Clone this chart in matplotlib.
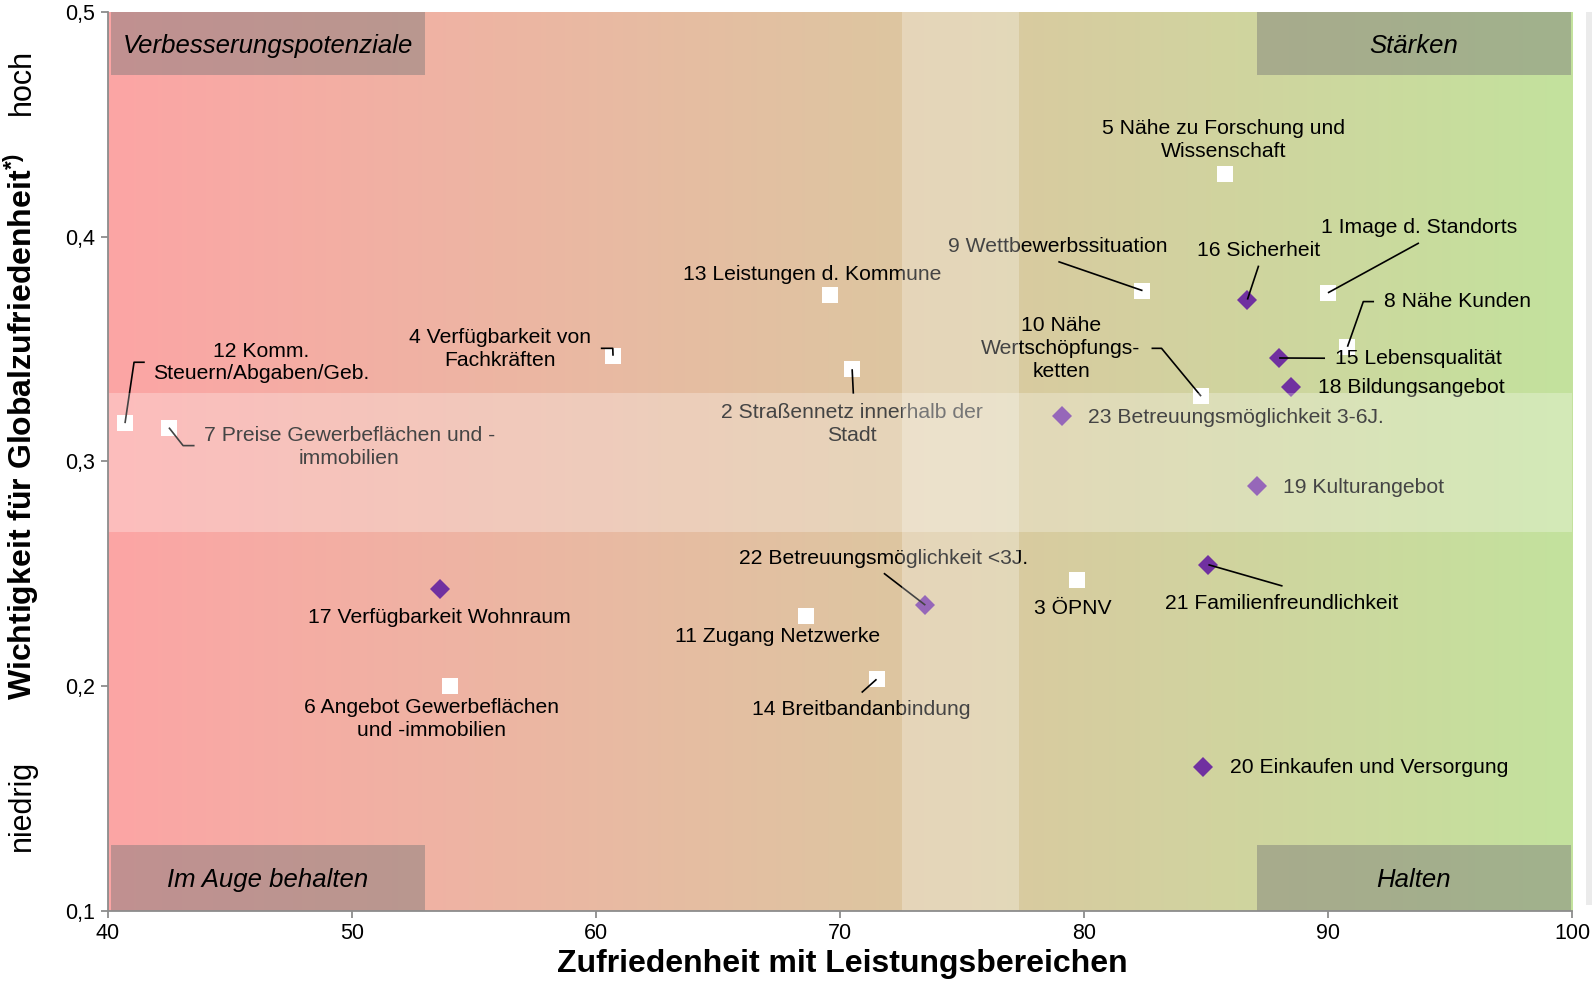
import matplotlib.pyplot as plt
import numpy as np
from matplotlib.patches import Rectangle
from matplotlib.ticker import FuncFormatter, MultipleLocator

plt.rcParams['font.family'] = ['Liberation Sans', 'DejaVu Sans']
plt.rcParams['mathtext.fontset'] = 'custom'
plt.rcParams['mathtext.rm'] = 'Liberation Sans'
plt.rcParams['mathtext.bf'] = 'Liberation Sans:bold'

# ------------------------
# Daten: Leistungsbereiche
# ------------------------
nummer = list(range(1, 24))
bereich = [
    "Image d. Standorts",
    "Straßennetz innerhalb der\nStadt",
    "ÖPNV",
    "Verfügbarkeit von\nFachkräften",
    "Nähe zu Forschung und\nWissenschaft",
    "Angebot Gewerbeflächen\nund -immobilien",
    "Preise Gewerbeflächen und -\nimmobilien",
    "Nähe Kunden",
    "Wettbewerbssituation",
    "Nähe\nWertschöpfungs-\nketten",
    "Zugang Netzwerke",
    "Komm.\nSteuern/Abgaben/Geb.",
    "Leistungen d. Kommune",
    "Breitbandanbindung",
    "Lebensqualität",
    "Sicherheit",
    "Verfügbarkeit Wohnraum",
    "Bildungsangebot",
    "Kulturangebot",
    "Einkaufen und Versorgung",
    "Familienfreundlichkeit",
    "Betreuungsmöglichkeit <3J.",
    "Betreuungsmöglichkeit 3-6J.",
]
zufriedenheit = [90.0, 70.5, 79.7, 60.7, 85.8, 54.0, 42.5, 90.8, 82.4, 84.8, 68.6, 40.7,
                 69.6, 71.5, 88.0, 86.7, 53.6, 88.5, 87.1, 84.9, 85.1, 73.5, 79.1]
wichtigkeit = [0.375, 0.341, 0.247, 0.347, 0.428, 0.200, 0.315, 0.351, 0.376, 0.329, 0.231, 0.317,
               0.374, 0.203, 0.346, 0.372, 0.243, 0.333, 0.289, 0.164, 0.254, 0.236, 0.320]
# 1-14 Standortfaktoren (Quadrat), 15-23 weiche Faktoren (Raute)
gruppe = ["s"] * 14 + ["D"] * 9

# ------------------------
# Layout der Beschriftungen (Textmitte) und Führungslinien
# ------------------------
text_pos = {
    1: (93.75, 0.404), 2: (70.48, 0.3165), 3: (79.56, 0.2347), 4: (56.05, 0.350),
    5: (85.72, 0.443), 6: (53.26, 0.1853), 7: (49.9, 0.3065), 8: (95.29, 0.3711),
    9: (78.94, 0.3955), 10: (79.06, 0.3503), 11: (67.45, 0.2222), 12: (46.27, 0.344),
    13: (68.87, 0.3833), 14: (70.86, 0.1895), 15: (93.7, 0.3459), 16: (87.14, 0.394),
    17: (53.59, 0.2306), 18: (93.41, 0.3327), 19: (91.47, 0.2884), 20: (91.67, 0.1638),
    21: (88.09, 0.2369), 22: (71.78, 0.2567), 23: (86.21, 0.3196),
}
leader = {
    1: [(93.73, 0.3972)], 16: [(87.16, 0.3871)], 9: [(78.95, 0.3889)],
    10: [(82.77, 0.3503), (83.18, 0.3503)], 8: [(91.89, 0.3711), (91.45, 0.3711)],
    15: [(89.88, 0.3459)], 12: [(41.51, 0.3441), (41.07, 0.3441)],
    7: [(43.55, 0.307), (43.08, 0.307)], 4: [(60.2, 0.3503), (60.69, 0.3503)],
    2: [(70.55, 0.330)], 22: [(71.8, 0.2502)], 21: [(88.14, 0.2445)], 14: [(70.89, 0.1971)],
}

fig = plt.figure(figsize=(15.92, 9.82), dpi=100)
ax = fig.add_axes([0.0678, 0.0726, 0.9196, 0.9152])
ax.set_xlim(40, 100)
ax.set_ylim(0.1, 0.5)

# Hintergrund-Verlauf rot -> grün
links = np.array([252, 165, 165]) / 255
rechts = np.array([195, 226, 157]) / 255
t = np.linspace(0, 1, 300)[None, :, None]
verlauf = links * (1 - t) + rechts * t
ax.imshow(verlauf, extent=[40, 100, 0.1, 0.5], aspect='auto', zorder=0, interpolation='bilinear')

# Punkte
for m, farbe, gr in [("s", "white", 11.5), ("D", "#7030A0", 10)]:
    xs = [x for x, g in zip(zufriedenheit, gruppe) if g == m]
    ys = [y for y, g in zip(wichtigkeit, gruppe) if g == m]
    ax.plot(xs, ys, linestyle='none', marker=m, markersize=gr, color=farbe,
            markeredgewidth=0, zorder=3)

# Beschriftungen
for n, name, x, y in zip(nummer, bereich, zufriedenheit, wichtigkeit):
    tx, ty = text_pos[n]
    ax.text(tx, ty, f"{n} {name}", ha='center', va='center', fontsize=15.2,
            linespacing=1.25, color='black', zorder=4)
    if n in leader:
        pts = leader[n] + [(x, y)]
        ax.plot([p[0] for p in pts], [p[1] for p in pts], color='black', lw=1.2,
                zorder=3.5, solid_capstyle='butt')

# helle Bänder
ax.axhspan(0.2686, 0.3305, color='white', alpha=0.27, lw=0, zorder=5)
ax.axvspan(72.53, 77.35, color='white', alpha=0.27, lw=0, zorder=5)

# Quadranten-Kästen
kasten = [
    (40.12, 0.472, 52.99, 0.5, "Verbesserungspotenziale"),
    (87.09, 0.472, 99.96, 0.5, "Stärken"),
    (40.12, 0.1, 52.99, 0.1293, "Im Auge behalten"),
    (87.09, 0.1, 99.96, 0.1293, "Halten"),
]
for x0, y0, x1, y1, txt in kasten:
    ax.add_patch(Rectangle((x0, y0), x1 - x0, y1 - y0, facecolor='#787878',
                           alpha=0.45, lw=0, zorder=6))
    ax.text((x0 + x1) / 2, (y0 + y1) / 2 - 0.001, txt, ha='center', va='center',
            fontsize=18.5, style='italic', zorder=7)

# Achsen
for s in ['top', 'right']:
    ax.spines[s].set_visible(False)
for s in ['left', 'bottom']:
    ax.spines[s].set_color('#8C8C8C')
    ax.spines[s].set_linewidth(1.3)
    ax.spines[s].set_zorder(8)
ax.xaxis.set_major_locator(MultipleLocator(10))
ax.yaxis.set_major_locator(MultipleLocator(0.1))
ax.yaxis.set_major_formatter(FuncFormatter(lambda v, p: f"{v:.1f}".replace('.', ',')))
ax.tick_params(direction='out', length=5, width=1.3, color='#8C8C8C',
               labelsize=15.5, pad=4)

fig.text(0.5293, 0.0185, "Zufriedenheit mit Leistungsbereichen", ha='center', va='center',
         fontsize=23, fontweight='bold')
fig.text(0.0135, 0.566, r"Wichtigkeit für Globalzufriedenheit$^{\mathbf{*)}}$", rotation=90,
         ha='center', va='center', fontsize=23, fontweight='bold')
fig.text(0.0135, 0.917, "hoch", rotation=90, ha='center', va='center', fontsize=22)
fig.text(0.0135, 0.18, "niedrig", rotation=90, ha='center', va='center', fontsize=22)

# grauer Rand rechts
fig.patches.append(Rectangle((1586 / 1592, (982 - 905) / 982), 6 / 1592, 893 / 982,
                             transform=fig.transFigure, facecolor='#EBEBEB', lw=0))

fig.savefig("out.png", dpi=100)
